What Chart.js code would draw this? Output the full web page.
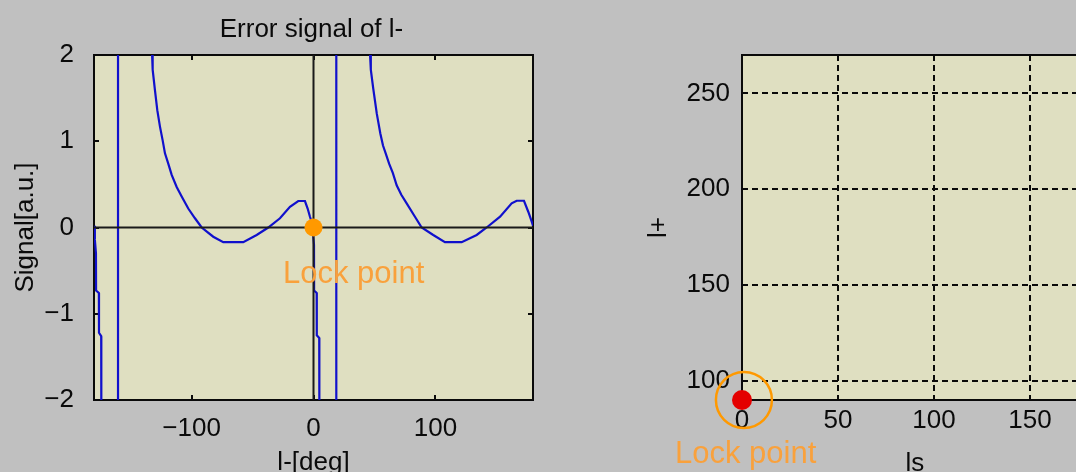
<!DOCTYPE html>
<html>
<head>
<meta charset="utf-8">
<script src="https://cdn.jsdelivr.net/npm/chart.js@4.4.0/dist/chart.umd.min.js"></script>
<style>
  html, body { margin: 0; padding: 0; background: #c0c0c0; overflow: hidden; width: 1076px; height: 472px; }
  #err-chart { position: absolute; left: 0; top: 0; }
  #map-chart { position: absolute; left: 620px; top: 0; }
</style>
</head>
<body>
<canvas id="err-chart" width="560" height="472"></canvas>
<canvas id="map-chart" width="500" height="472"></canvas>
<script>
// --- dados ---
// sinal de erro em função de l- [deg]; null = quebra no traço
const errDeg = [
  -180, -179.3, -178.4, -178.3, -176, -175.9, -174.1, -174, null,
  -160.3, -160.3, null,
  -132.6, -132.4, -131.9, -130, -128.1, -125.9, -123.7, -121.8, -119.1, -116.3, -112.2, -108.1,
  -102.7, -97.2, -91.7, -82.2, -74, -57.6, -46.6, -37.1, -27.5, -19.3, -12.5, -7, -4.8, -2.9,
  -1.2, 0.4, 0.5, 2.6, 2.7, 4.7, 4.8, null,
  18.7, 18.7, null,
  46.1, 46.4, 47, 49, 51.9, 54.8, 57, 59.2, 62, 65.1, 68.2, 72, 76.4, 83.2, 88.7, 98.2, 107.8,
  121.5, 133.8, 142, 153, 162.5, 166.6, 172.6, 176.2, 178.9, 180
];
const errSignal = [
  0.02, -0.14, -0.3, -0.73, -0.76, -1.22, -1.26, -2.1, null,
  -2.1, 2.1, null,
  2.1, 2.02, 1.83, 1.59, 1.36, 1.17, 1.01, 0.86, 0.74, 0.61, 0.47, 0.36,
  0.22, 0.107, 0.0, -0.107, -0.17, -0.17, -0.087, 0.0, 0.107, 0.24, 0.307, 0.307, 0.22, 0.125,
  0.05, -0.2, -0.73, -0.76, -1.25, -1.28, -2.1, null,
  -2.1, 2.1, null,
  2.1, 2.0, 1.83, 1.61, 1.32, 1.09, 0.95, 0.86, 0.74, 0.63, 0.49, 0.38, 0.28, 0.125, 0.0, -0.087, -0.17,
  -0.17, -0.087, 0.0, 0.125, 0.28, 0.31, 0.31, 0.18, 0.07, 0.02
];
const errXTicks = [-100, 0, 100];
const errYTicks = [-2, -1, 0, 1, 2];
const errLock = [0, 0];

// mapa ls x l+
const mapXTicks = [0, 50, 100, 150];
const mapYTicks = [100, 150, 200, 250];
const mapLock = [0, 90];
const mapRing = [1, 90];

// --- estilos ---
const PLOT_BG = '#dfdfc1';
const TRACE = '#1010cc';
const ORANGE = '#ff9900';
const NOTE = '#f9a13c';
const INK = '#0a0a0a';
const AXIS_FONT = { family: "'Liberation Sans', Arial, sans-serif", size: 26 };
const minus = (v) => String(v).replace('-', '\u2212');

// fundo bege, moldura preta, ticks para dentro e textos livres
const framePlugin = {
  id: 'frame',
  beforeDraw(chart) {
    const { ctx, chartArea: a } = chart;
    ctx.save();
    ctx.fillStyle = PLOT_BG;
    ctx.fillRect(a.left, a.top, a.width, a.height);
    ctx.restore();
  },
  beforeDatasetsDraw(chart) {
    const { ctx, chartArea: a, scales: { x, y } } = chart;
    ctx.save();
    ctx.strokeStyle = INK;
    ctx.lineWidth = 2;
    ctx.strokeRect(a.left, a.top, a.width, a.height);
    ctx.beginPath();
    x.ticks.forEach(t => {
      const p = Math.round(x.getPixelForValue(t.value));
      ctx.moveTo(p, a.top); ctx.lineTo(p, a.top + 5);
      ctx.moveTo(p, a.bottom); ctx.lineTo(p, a.bottom - 5);
    });
    y.ticks.forEach(t => {
      const p = Math.round(y.getPixelForValue(t.value));
      ctx.moveTo(a.left, p); ctx.lineTo(a.left + 5, p);
      ctx.moveTo(a.right, p); ctx.lineTo(a.right - 5, p);
    });
    ctx.stroke();
    ctx.restore();
  },
  afterDraw(chart, args, opts) {
    const { ctx, chartArea: a, scales: { x, y } } = chart;
    ctx.save();
    if (opts.title) {
      ctx.font = `26px ${AXIS_FONT.family}`;
      ctx.fillStyle = INK;
      ctx.textAlign = 'center';
      ctx.textBaseline = 'alphabetic';
      ctx.fillText(opts.title, (a.left + a.right) / 2 - 2, 37);
    }
    if (opts.note) {
      const n = opts.note;
      ctx.font = "31px 'Liberation Sans', Arial, sans-serif";
      ctx.fillStyle = NOTE;
      ctx.textAlign = 'left';
      ctx.textBaseline = 'alphabetic';
      ctx.fillText(n.text, x.getPixelForValue(n.at[0]) + n.dx, y.getPixelForValue(n.at[1]) + n.dy);
    }
    ctx.restore();
  }
};

const fixedTicks = (values) => (scale) => { scale.ticks = values.map(v => ({ value: v })); };

// --- gráfico 1: sinal de erro ---
new Chart(document.getElementById('err-chart'), {
  type: 'scatter',
  data: {
    datasets: [
      {
        data: [{ x: errLock[0], y: errLock[1] }],
        pointRadius: 9, pointHoverRadius: 9,
        backgroundColor: ORANGE, borderWidth: 0
      },
      {
        data: [{ x: -180, y: 0 }, { x: 180, y: 0 }],
        showLine: true, pointRadius: 0, borderColor: '#1a1a1a', borderWidth: 2
      },
      {
        data: [{ x: 0, y: -2 }, { x: 0, y: 2 }],
        showLine: true, pointRadius: 0, borderColor: '#1a1a1a', borderWidth: 2
      },
      {
        data: errDeg.map((d, i) => ({ x: d, y: errSignal[i] })),
        showLine: true, spanGaps: false, pointRadius: 0,
        borderColor: TRACE, borderWidth: 2.2
      }
    ]
  },
  options: {
    responsive: false, animation: false, devicePixelRatio: 1,
    layout: { padding: { top: 55, right: 27, left: 0, bottom: 0 } },
    scales: {
      x: {
        type: 'linear', min: -180, max: 180,
        afterBuildTicks: fixedTicks(errXTicks),
        afterFit: (s) => { s.height = 72; },
        grid: { display: false }, border: { display: false },
        ticks: { color: INK, font: AXIS_FONT, padding: 5, maxRotation: 0, callback: minus },
        title: { display: true, text: 'l-[deg]', color: INK, font: AXIS_FONT, padding: { top: 0, bottom: -6 } }
      },
      y: {
        type: 'linear', min: -2, max: 2,
        afterBuildTicks: fixedTicks(errYTicks),
        afterFit: (s) => { s.width = 94; },
        grid: { display: false }, border: { display: false },
        ticks: { color: INK, font: AXIS_FONT, padding: 12, callback: minus },
        title: { display: true, text: 'Signal[a.u.]', color: INK, font: AXIS_FONT, padding: { top: 10, bottom: 0 } }
      }
    },
    plugins: {
      legend: { display: false },
      tooltip: { enabled: false },
      frame: { title: 'Error signal of l-', note: { text: 'Lock point', at: errLock, dx: -30.5, dy: 55.5 } }
    }
  },
  plugins: [framePlugin]
});

// --- gráfico 2: mapa ls x l+ ---
new Chart(document.getElementById('map-chart'), {
  type: 'scatter',
  data: {
    datasets: [
      {
        data: [{ x: mapLock[0], y: mapLock[1] }],
        pointRadius: 10, pointHoverRadius: 10,
        backgroundColor: '#e40000', borderWidth: 0, clip: false
      },
      {
        data: [{ x: mapRing[0], y: mapRing[1] }],
        pointRadius: 28, pointHoverRadius: 28,
        backgroundColor: 'rgba(0,0,0,0)', borderColor: ORANGE, borderWidth: 2.5, clip: false
      }
    ]
  },
  options: {
    responsive: false, animation: false, devicePixelRatio: 1,
    layout: { padding: { top: 55, right: 32.4, left: 0, bottom: 0 } },
    scales: {
      x: {
        type: 'linear', min: 0, max: 180,
        afterBuildTicks: fixedTicks(mapXTicks),
        afterFit: (s) => { s.height = 72; },
        grid: { display: true, drawTicks: false, color: INK, lineWidth: 2 },
        border: { display: false, dash: [6, 4] },
        ticks: { color: INK, font: AXIS_FONT, padding: 5, maxRotation: 0 },
        title: { display: true, text: 'ls', color: INK, font: AXIS_FONT, padding: { top: 0, bottom: -7 } }
      },
      y: {
        type: 'linear', min: 90, max: 270,
        afterBuildTicks: fixedTicks(mapYTicks),
        afterFit: (s) => { s.width = 122; },
        grid: { display: true, drawTicks: false, color: INK, lineWidth: 2 },
        border: { display: false, dash: [6, 4] },
        ticks: { color: INK, font: AXIS_FONT, padding: 12 },
        title: { display: true, text: 'l+', color: INK, font: AXIS_FONT, padding: { top: 23, bottom: 0 } }
      }
    },
    plugins: {
      legend: { display: false },
      tooltip: { enabled: false },
      frame: { note: { text: 'Lock point', at: mapLock, dx: -67, dy: 63 } }
    }
  },
  plugins: [framePlugin]
});
</script>
</body>
</html>
